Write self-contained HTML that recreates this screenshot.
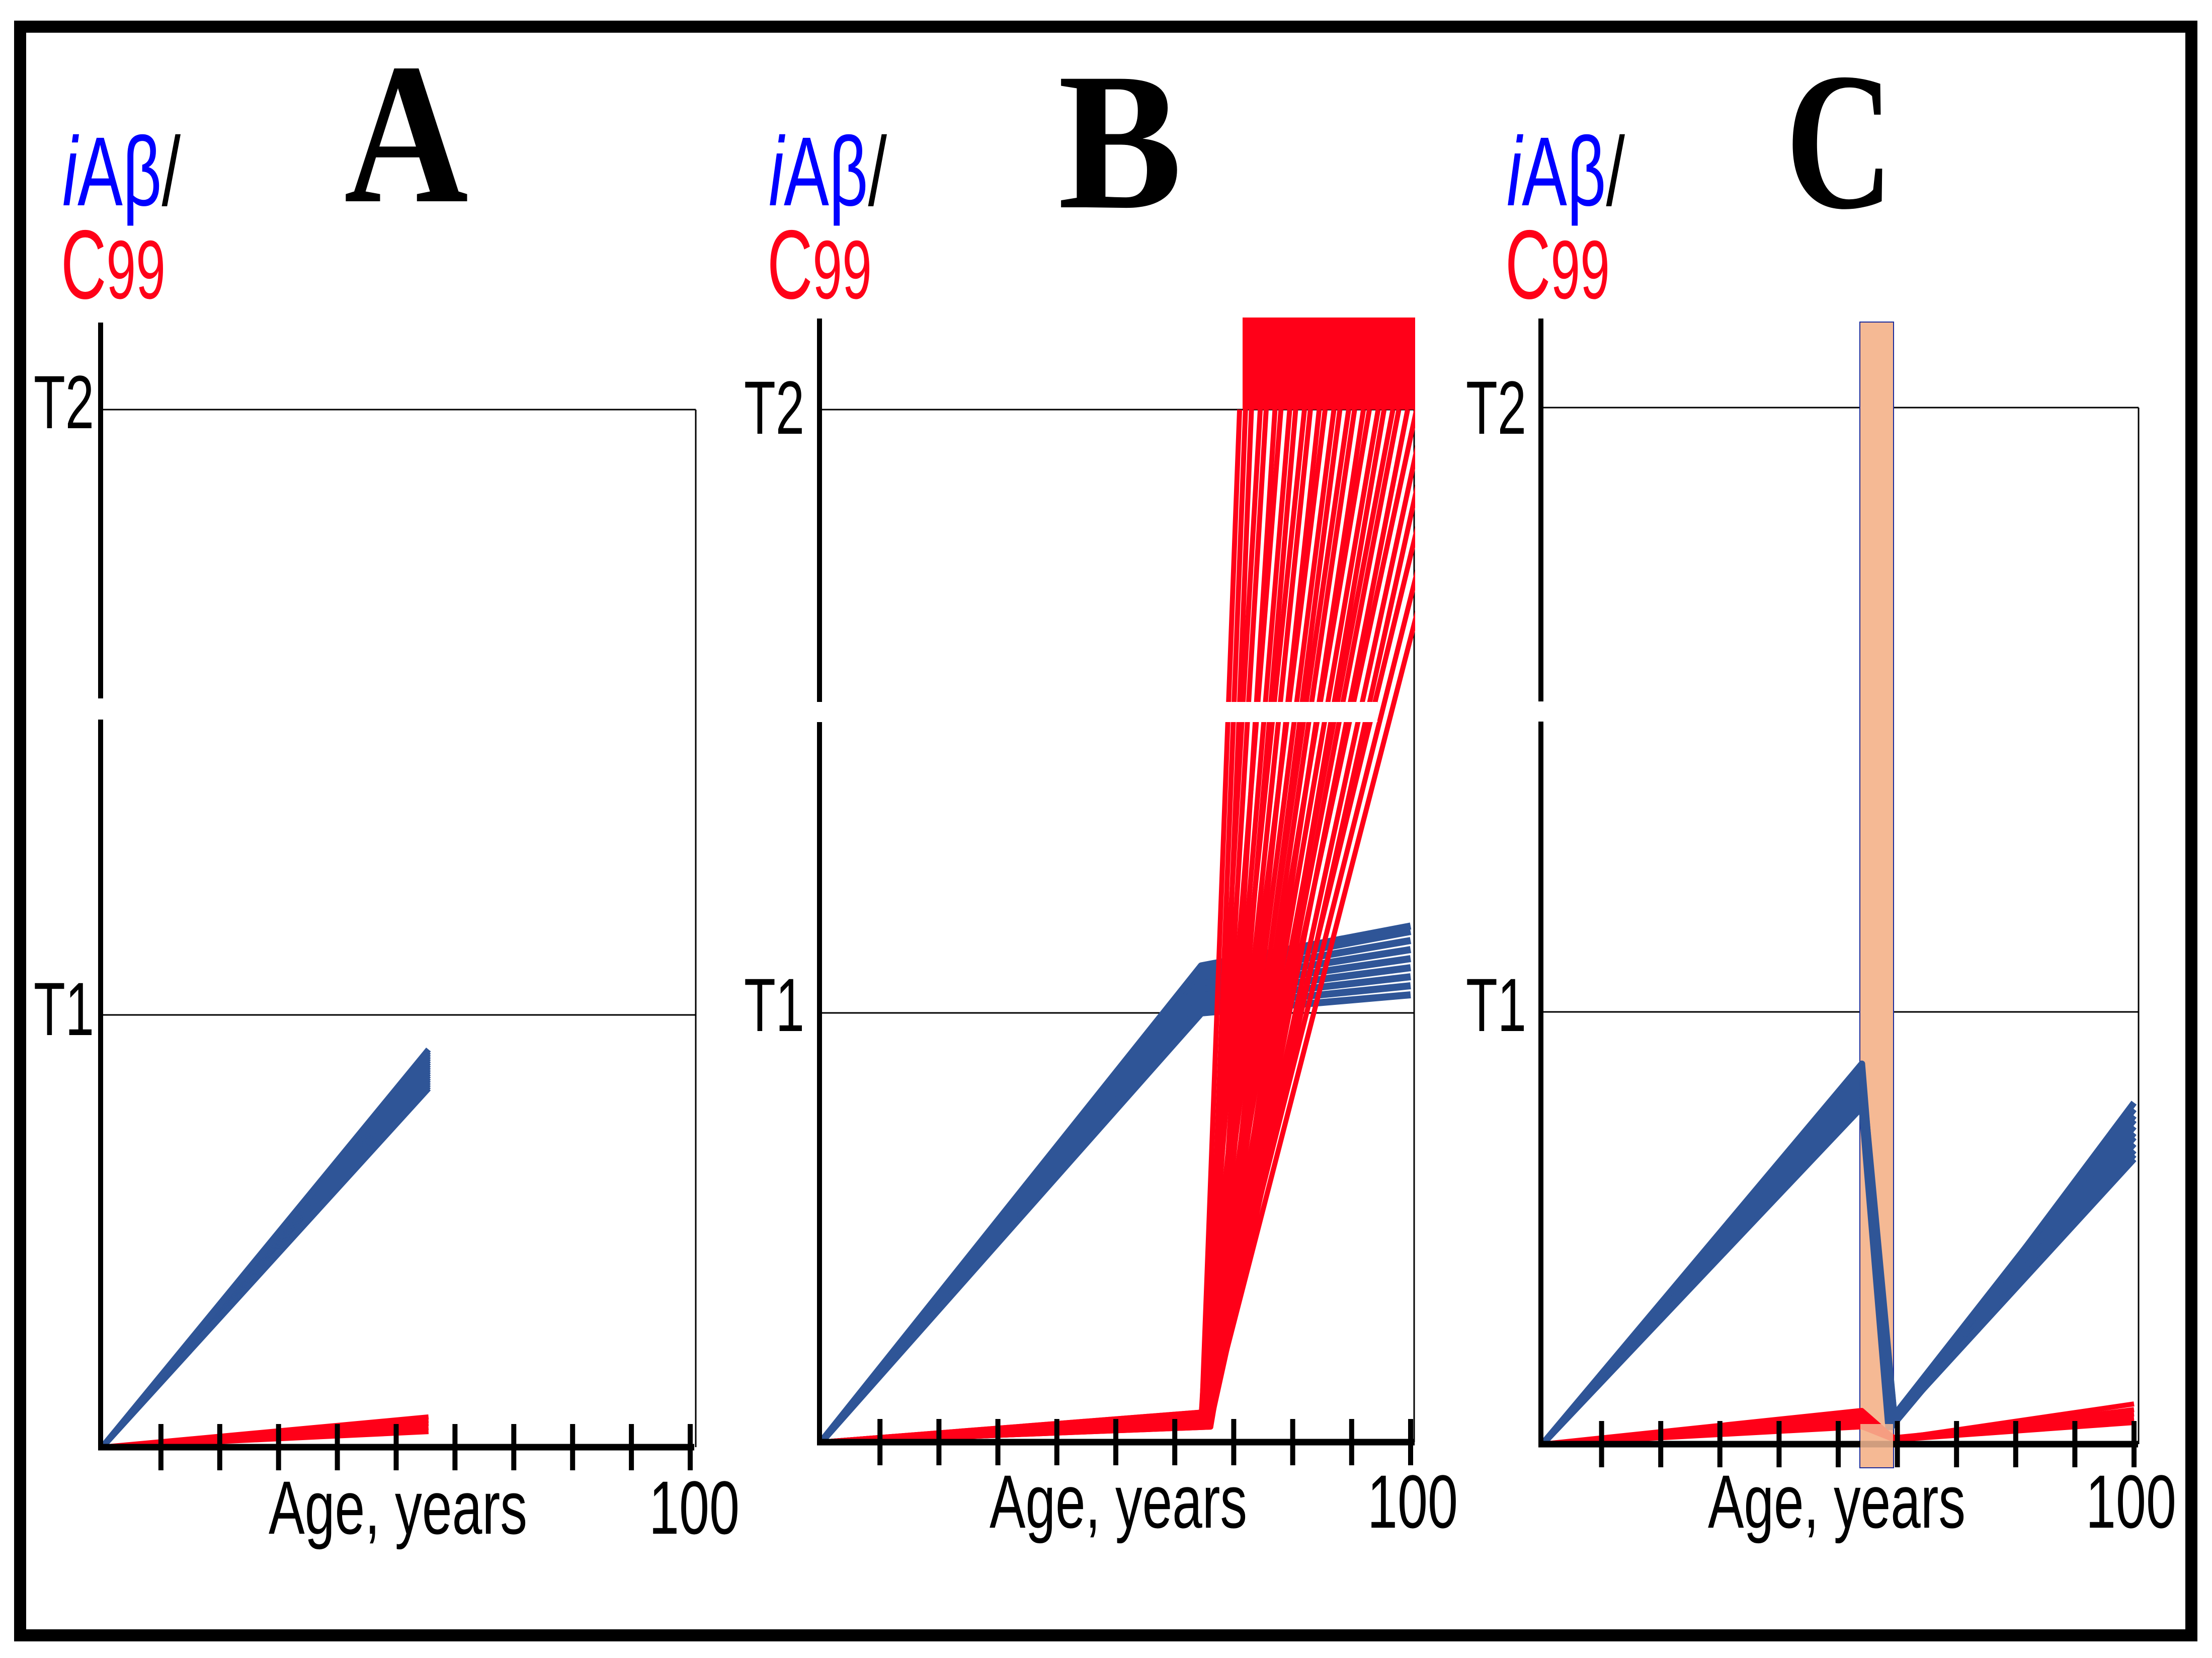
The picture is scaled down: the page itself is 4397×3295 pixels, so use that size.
<!DOCTYPE html>
<html><head><meta charset="utf-8"><style>
html,body{margin:0;padding:0;background:#fff;}
svg{display:block;}
text{font-family:"Liberation Sans",sans-serif;}
.ser{font-family:"Liberation Serif",serif;font-weight:bold;}
</style></head><body>
<svg id="fig" xmlns="http://www.w3.org/2000/svg" width="4397" height="3295" viewBox="0 0 4397 3295">
<rect x="40" y="53" width="4316" height="3197" fill="none" stroke="#000" stroke-width="24"/>
<g id="panels"></g>
</svg>
<script>
const tickAges = [10,20,30,40,50,60,70,80,90,100];
const blueA_ages = [0, 55.5];
const blueA_end = [0.83,0.835,0.84,0.845,0.85,0.855,0.86,0.865,0.87,0.875,0.88,0.885,0.89,0.895,0.90,0.905,0.91,0.915,0.92];
const redA_ages = [0, 55.5];
const redA_end = [0.036,0.045,0.055,0.062,0.07];
const blueB_ages = [0, 64.5, 100];
const blueB_knee = [1.0,1.01,1.02,1.03,1.04,1.05,1.06,1.07,1.078];
const blueB_end = [1.03,1.045,1.06,1.075,1.09,1.105,1.12,1.135,1.144];
const redB_ages = [0, 64.5];
const redB_start = [0.035,0.045,0.055,0.065,0.07];
const redB_target = [71,72,73,74.5,75.5,77,78,79.5,80.5,82,83,84.5,85.5,87,88,89.5,90.5,92,93,94.5,95.5,97,98,99.5,101,102.5,104,106,108,110];
const blueC_ages = [0, 54, 58.5, 100];
const blueC_peak = [0.78,0.79,0.80,0.81,0.82,0.83,0.84,0.85,0.86,0.87,0.88];
const blueC_trough = [0.04,0.05,0.06,0.05,0.04,0.06,0.05,0.04,0.06,0.05,0.04];
const blueC_end = [0.66,0.67,0.68,0.695,0.71,0.72,0.735,0.75,0.76,0.775,0.79];
const redC_ages = [0, 54, 59.5, 100];
const redC_peak = [0.04,0.05,0.06,0.07,0.078];
const redC_dip = [0.01,0.012,0.015,0.01,0.012];
const redC_end = [0.05,0.06,0.07,0.08,0.093];

const NS="http://www.w3.org/2000/svg";
const root=document.getElementById('panels');
function mk(tag,attrs,parent){const e=document.createElementNS(NS,tag);for(const k in attrs)e.setAttribute(k,attrs[k]);(parent||root).appendChild(e);return e;}

const panels=[
 {id:'a',letter:'A',x0:203,k:11.69,y0:2876,t1:2017,t2:814,right:1383,top:641,bt:1388,bb:1430,
  letterX:684,letterW:247,labX:124,tX:67,ageX:534,ageL:514,hX:1290,gapR:215},
 {id:'b',letter:'B',x0:1632,k:11.72,y0:2866,t1:2013,t2:814,right:2811,top:633,bt:1395,bb:1435,
  letterX:2103,letterW:247,labX:1528,tX:1479,ageX:1967,ageL:512,hX:2718,gapR:2738},
 {id:'c',letter:'C',x0:3066,k:11.76,y0:2870,t1:2011,t2:810,right:4251,top:633,bt:1394,bb:1434,
  letterX:3549,letterW:215,labX:2995,tX:2914,ageX:3395,ageL:512,hX:4146,gapR:3078}
];
function X(p,a){return p.x0+a*p.k;}
function Y(p,v){return v<=1? p.y0-v*(p.y0-p.t1) : p.t1-(v-1)*(p.t1-p.t2);}

panels.forEach(p=>{
 const g=mk('g',{});
 
 
 const cp=mk('clipPath',{id:'clip-'+p.id},g);
 
 
 const cr=mk('rect',{x:p.x0-8,y:p.top,width:p.right-p.x0+10,height:p.y0-p.top+10},cp);
 
 

 const L=mk('text',{x:p.letterX,y:p.id==='a'?400:412,'font-size':p.id==='a'?'400':'390',class:'ser',fill:'#000',textLength:p.letterW,lengthAdjust:'spacingAndGlyphs'},g);
 L.textContent=p.letter;
 
 
 const yl=mk('text',{x:p.labX,y:408,'font-size':'195',textLength:'235',lengthAdjust:'spacingAndGlyphs'},g);
 yl.innerHTML='<tspan fill="#0000ff" font-style="italic">i</tspan><tspan fill="#0000ff">Aβ</tspan><tspan fill="#000">/</tspan>';
 
 
 const yl2=mk('text',{x:p.labX-3,y:593,'font-size':'195',fill:'#ff0018',textLength:'208',lengthAdjust:'spacingAndGlyphs'},g);
 yl2.innerHTML='C<tspan font-size="165">99</tspan>';
 
 

 const t2l=mk('line',{x1:p.x0,y1:p.t2,x2:p.right,y2:p.t2,stroke:'#000','stroke-width':3},g);
 
 
 const t1l=mk('line',{x1:p.x0,y1:p.t1,x2:p.right,y2:p.t1,stroke:'#000','stroke-width':3},g);
 
 
 const rl=mk('line',{x1:p.right,y1:p.t2,x2:p.right,y2:p.y0,stroke:'#000','stroke-width':3},g);
 
 
 const t2t=mk('text',{x:p.tX,y:p.id==='a'?851:862,'font-size':'150',textLength:'120',lengthAdjust:'spacingAndGlyphs'},g);
 t2t.textContent='T2';
 
 
 const t1t=mk('text',{x:p.tX,y:p.id==='a'?2057:2049,'font-size':'150',textLength:'120',lengthAdjust:'spacingAndGlyphs'},g);
 t1t.textContent='T1';
 
 

 if(p.id==='c'){
   const bar=mk('rect',{x:3697,y:640,width:67,height:2917-640,fill:'#f5b994',stroke:'#1a2a9a','stroke-width':2},g);
   
   
 }
 const series=mk('g',{'clip-path':'url(#clip-'+p.id+')','fill':'none','stroke-linecap':'butt','stroke-linejoin':'round'},g);
 
 
 function line(pts,color,w,name){
   const d=pts.map((q,i)=>(i?'L':'M')+X(p,q[0]).toFixed(1)+' '+Y(p,q[1]).toFixed(1)).join(' ');
   const e=mk('path',{d:d,stroke:color,'stroke-width':w},series);
   
   
 }
 const BL='#2f5597', RD='#ff0018';
 if(p.id==='a'){
   blueA_end.forEach(v=>line([[blueA_ages[0],0],[blueA_ages[1],v]],BL,12,'iabeta-line'));
   redA_end.forEach(v=>line([[redA_ages[0],0],[redA_ages[1],v]],RD,10,'c99-line'));
 }
 if(p.id==='b'){
   blueB_knee.forEach((v,i)=>line([[blueB_ages[0],0],[blueB_ages[1],v],[blueB_ages[2],blueB_end[i]]],BL,14,'iabeta-line'));
   redB_target.forEach((a,i)=>{
     const s=redB_start[i%redB_start.length];
     const sa=redB_ages[1]+(i%3)*0.8;
     line([[redB_ages[0],0],[sa,s],[a,2]],RD,10,'c99-line');
   });
   const blk=mk('rect',{x:X(p,71.5),y:631,width:p.right-X(p,71.5)+2,height:p.t2-631,fill:RD},g);
   
   
 }
 if(p.id==='c'){
   blueC_peak.forEach((v,i)=>line([[blueC_ages[0],0],[blueC_ages[1],v],[blueC_ages[2]+(i%3)*0.5,blueC_trough[i]],[blueC_ages[3],blueC_end[i]]],BL,13,'iabeta-line'));
   redC_peak.forEach((v,i)=>line([[redC_ages[0],0],[redC_ages[1],v],[redC_ages[2],redC_dip[i]],[redC_ages[3],redC_end[i]]],RD,10,'c99-line'));
 }

 const ya=mk('line',{x1:p.x0-3,y1:p.top,x2:p.x0-3,y2:p.y0+6,stroke:'#000','stroke-width':10},g);
 
 
 const gap=mk('rect',{x:p.x0-15,y:p.bt,width:p.gapR-p.x0+15,height:p.bb-p.bt,fill:'#fff'},g);
 
 
 const xa=mk('line',{x1:p.x0-8,y1:p.y0,x2:X(p,100)+8,y2:p.y0,stroke:'#000','stroke-width':13},g);
 
 
 tickAges.forEach(a=>{
   const t=mk('line',{x1:X(p,a),y1:p.y0-46,x2:X(p,a),y2:p.y0+46,stroke:'#000','stroke-width':10},g);
   
   
 });
 if(p.id==='c'){
   const bar2=mk('rect',{x:3698,y:p.y0-40,width:65,height:2916-(p.y0-40),fill:'#f5b994','fill-opacity':'0.85'},g);
   
   
 }
 const at=mk('text',{x:p.ageX,y:p.id==='a'?3048:3036,'font-size':'150',textLength:p.ageL,lengthAdjust:'spacingAndGlyphs'},g);
 at.textContent='Age, years';
 
 
 const ht=mk('text',{x:p.hX,y:p.id==='a'?3048:3036,'font-size':'150',textLength:'180',lengthAdjust:'spacingAndGlyphs'},g);
 ht.textContent='100';
 
 
});
</script>
</body></html>
